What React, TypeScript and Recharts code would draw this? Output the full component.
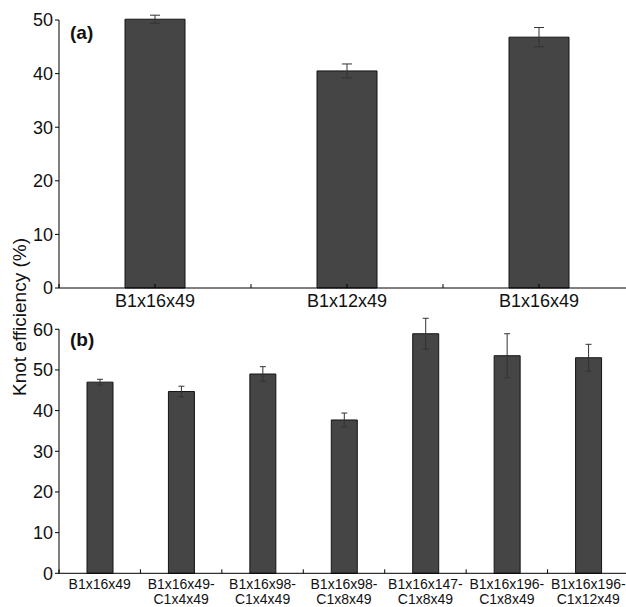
import { BarChart, Bar, XAxis, YAxis, ErrorBar, ReferenceLine } from 'recharts';

const FONT = '"Liberation Sans", Arial, sans-serif';

// panel (a)
const topLabels = ['B1x16x49', 'B1x12x49', 'B1x16x49'];
const topValues = [50.15, 40.5, 46.8];
const topErrors = [0.75, 1.3, 1.8];
const topTicks = [0, 10, 20, 30, 40, 50];

// panel (b)
const bottomLabels = [
  'B1x16x49',
  'B1x16x49-\nC1x4x49',
  'B1x16x98-\nC1x4x49',
  'B1x16x98-\nC1x8x49',
  'B1x16x147-\nC1x8x49',
  'B1x16x196-\nC1x8x49',
  'B1x16x196-\nC1x12x49',
];
const bottomValues = [47.0, 44.7, 49.0, 37.7, 58.9, 53.5, 53.0];
const bottomErrors = [0.7, 1.3, 1.8, 1.7, 3.8, 5.4, 3.3];
const bottomTicks = [0, 10, 20, 30, 40, 50, 60];

const topData = topLabels.map((name, i) => ({ id: String(i), name, value: topValues[i], err: topErrors[i] }));
const bottomData = bottomLabels.map((name, i) => ({ id: String(i), name, value: bottomValues[i], err: bottomErrors[i] }));

// category label plus small inward ticks (at band edges, optionally at centre)
function makeTick(
  data: { id: string; name: string }[],
  band: number,
  centerTick: boolean,
  fontSize: number,
  firstBase: number,
  lineGap: number
) {
  return (props: any) => {
    const { x, y, payload } = props;
    const row = data.find((d) => d.id === String(payload.value));
    const lines = row ? row.name.split('\n') : [];
    return (
      <g>
        <line x1={x - band / 2} y1={y} x2={x - band / 2} y2={y - 4} stroke="#000" />
        {centerTick && <line x1={x} y1={y} x2={x} y2={y - 4} stroke="#000" />}
        <text x={x} y={y + firstBase} textAnchor="middle" fontSize={fontSize} fill="#111" fontFamily={FONT}>
          {lines.map((l, i) => (
            <tspan key={i} x={x} dy={i === 0 ? 0 : lineGap}>
              {l}
            </tspan>
          ))}
        </text>
      </g>
    );
  };
}

const yTick = { fontSize: 18, fill: '#111', fontFamily: FONT };

export default function App() {
  return (
    <div style={{ position: 'absolute', left: 0, top: 0, width: 626, height: 607, overflow: 'hidden', background: '#fff' }}>
      <div style={{ position: 'absolute', left: 0, top: 0 }}>
        <BarChart width={640} height={320} data={topData} margin={{ top: 9.3, right: 5, left: 0, bottom: 0 }}>
          <XAxis
            dataKey="id"
            height={32}
            interval={0}
            tickLine={false}
            tickSize={0}
            tickMargin={0}
            axisLine={{ stroke: '#000' }}
            tick={makeTick(topData, 192, true, 18, 19, 0)}
          />
          <YAxis
            width={59}
            domain={[0, 52]}
            ticks={topTicks}
            axisLine={false}
            tickSize={4}
            tickMargin={2}
            tickLine={{ stroke: '#000' }}
            tick={yTick}
          />
          <ReferenceLine
            segment={[
              { x: '0', y: 0 },
              { x: '0', y: 50 },
            ]}
            position="start"
            ifOverflow="visible"
            stroke="#000"
          />
          <Bar dataKey="value" barSize={60} fill="#454545" stroke="#151515" strokeWidth={1} isAnimationActive={false}>
            <ErrorBar dataKey="err" width={5} stroke="#333" strokeWidth={1} />
          </Bar>
        </BarChart>
      </div>
      <div style={{ position: 'absolute', left: 0, top: 300 }}>
        <BarChart width={630} height={307} data={bottomData} margin={{ top: 13, right: 1, left: 0, bottom: 0 }}>
          <XAxis
            dataKey="id"
            height={33.7}
            interval={0}
            tickLine={false}
            tickSize={0}
            tickMargin={0}
            axisLine={{ stroke: '#000' }}
            tick={makeTick(bottomData, 570 / 7, false, 14, 15.5, 15)}
          />
          <YAxis
            width={59}
            domain={[0, 64]}
            ticks={bottomTicks}
            axisLine={false}
            tickSize={4}
            tickMargin={2}
            tickLine={{ stroke: '#000' }}
            tick={yTick}
          />
          <ReferenceLine
            segment={[
              { x: '0', y: 0 },
              { x: '0', y: 60 },
            ]}
            position="start"
            ifOverflow="visible"
            stroke="#000"
          />
          <Bar dataKey="value" barSize={26} fill="#454545" stroke="#151515" strokeWidth={1} isAnimationActive={false}>
            <ErrorBar dataKey="err" width={3} stroke="#333" strokeWidth={1} />
          </Bar>
        </BarChart>
      </div>
      <svg width={626} height={607} style={{ position: 'absolute', left: 0, top: 0, pointerEvents: 'none' }}>
        <text x={70} y={39} fontSize={19} fontWeight="bold" fill="#111" fontFamily={FONT}>
          (a)
        </text>
        <text x={70} y={346} fontSize={19} fontWeight="bold" fill="#111" fontFamily={FONT}>
          (b)
        </text>
        <text
          x={26}
          y={317}
          transform="rotate(-90 26 317)"
          textAnchor="middle"
          fontSize={19}
          fill="#111"
          fontFamily={FONT}
        >
          Knot efficiency (%)
        </text>
      </svg>
    </div>
  );
}
